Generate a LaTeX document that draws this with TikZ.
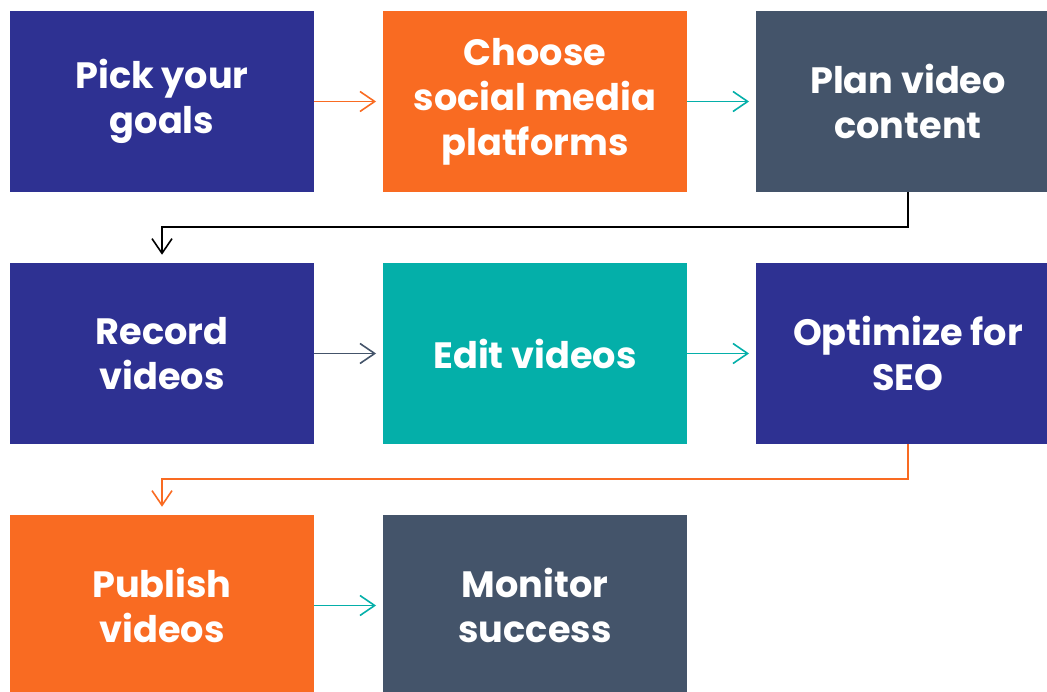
\documentclass[tikz,border=0pt]{standalone}
\usepackage{fontspec}
\setmainfont{Poppins}
\usetikzlibrary{arrows.meta}

\definecolor{navy}{HTML}{2E3192}
\definecolor{tangerine}{HTML}{F96B22}
\definecolor{slate}{HTML}{44546A}
\definecolor{teal}{HTML}{04AFA9}

\tikzset{
  stepbox/.style={rectangle, inner sep=0pt, minimum width=228pt,
    minimum height=135.75pt, text=white, align=center,
    font=\fontsize{27.5pt}{33.75pt}\selectfont\bfseries},
  flow/.style={line width=1.2pt,
    -{Straight Barb[length=11pt,width=15pt,line width=1.2pt]}},
}

\begin{document}
\begin{tikzpicture}[x=0.75pt,y=-0.75pt]
  \useasboundingbox (0,0) rectangle (1047,692);
  \clip (0,0) rectangle (1047,692);

  % process steps, three per row
  \node[stepbox, fill=navy]      (b1) at (162,101.5) {Pick your\\goals};
  \node[stepbox, fill=tangerine] (b2) at (535,101.5) {Choose\\social media\\platforms};
  \node[stepbox, fill=slate]     (b3) at (908,101.5) {Plan video\\content};
  \node[stepbox, fill=navy]      (b4) at (162,353.5) {Record\\videos};
  \node[stepbox, fill=teal]      (b5) at (535,353.5) {Edit videos};
  \node[stepbox, fill=navy]      (b6) at (908,353.5) {Optimize for\\SEO};
  \node[stepbox, fill=tangerine] (b7) at (162,605.5) {Publish\\videos};
  \node[stepbox, fill=slate]     (b8) at (535,605.5) {Monitor\\success};

  % connectors within a row
  \draw[flow, tangerine, shorten >=5pt] (b1.east) -- (b2.west);
  \draw[flow, teal,      shorten >=5pt] (b2.east) -- (b3.west);
  \draw[flow, slate,     shorten >=5pt] (b4.east) -- (b5.west);
  \draw[flow, teal,      shorten >=5pt] (b5.east) -- (b6.west);
  \draw[flow, teal,      shorten >=5pt] (b7.east) -- (b8.west);

  % connectors wrapping to the next row
  \draw[flow, black, shorten >=6pt] (b3.south) -- ++(0,35) -| (b4.north);
  \draw[flow, tangerine, shorten >=6pt] (b6.south) -- ++(0,35) -| (b7.north);
\end{tikzpicture}
\end{document}
